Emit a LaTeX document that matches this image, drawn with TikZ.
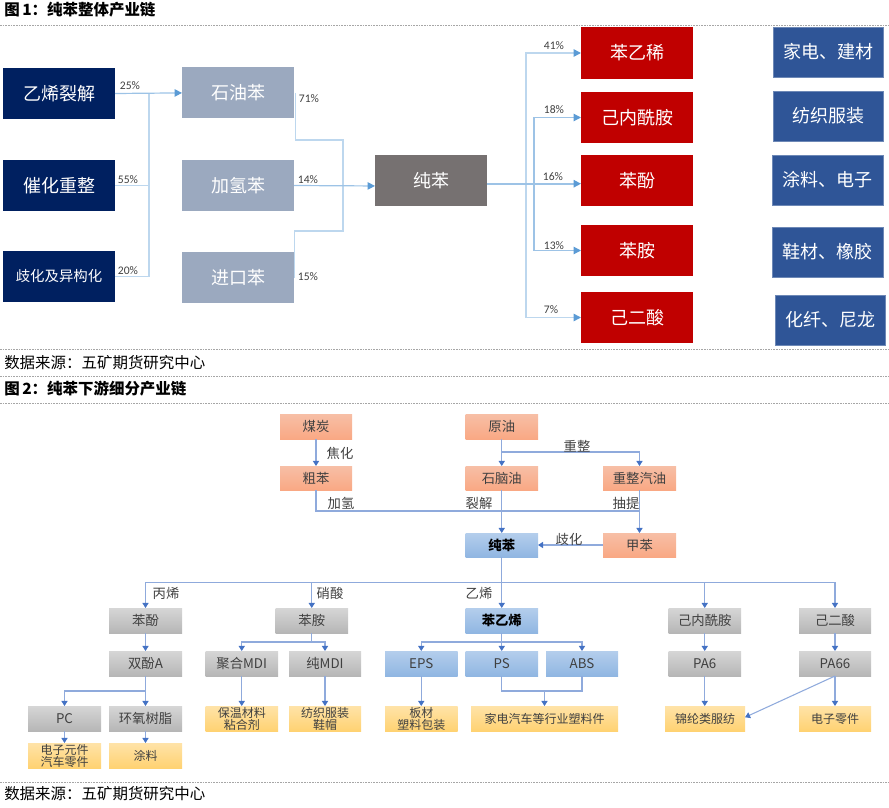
\documentclass[tikz,border=0pt]{standalone}
\usepackage{fontspec}
\setmainfont{Noto Sans CJK SC}
\newfontfamily\pctfont{Carlito}
\usetikzlibrary{arrows.meta,calc}
\definecolor{navy}{HTML}{002060}
\definecolor{steelg}{HTML}{9BA9BF}
\definecolor{darkg}{HTML}{767171}
\definecolor{deepred}{HTML}{C00000}
\definecolor{midblue}{HTML}{2F5597}
\definecolor{linelt}{HTML}{BDD7EE}
\definecolor{linemd}{HTML}{9DC3E6}
\definecolor{tiptop}{HTML}{5B9BD5}
\definecolor{linelow}{HTML}{8FAADC}
\definecolor{tiplow}{HTML}{4472C4}
\definecolor{txt}{HTML}{404040}
\definecolor{ortop}{HTML}{F7BFA6}
\definecolor{orbot}{HTML}{F9A884}
\definecolor{bltop}{HTML}{B4CEEC}
\definecolor{blbot}{HTML}{90B6E2}
\definecolor{grtop}{HTML}{D6D6D6}
\definecolor{grbot}{HTML}{B6B6B6}
\definecolor{yltop}{HTML}{FFE3A8}
\definecolor{ylbot}{HTML}{FFD272}
\newcommand\fs[1]{\fontsize{#1}{#1}\selectfont}
\newcommand\pb[7]{\node[#2, minimum width={(#5-#3)*0.75pt}, minimum height={(#6-#4)*0.75pt}] (#1) at ({(#3+#5)/2},{(#4+#6)/2}) {#7};}
\tikzset{
  boxbase/.style={inner sep=0pt,outer sep=0pt,align=center},
  bignavy/.style={boxbase,fill=navy,text=white,font=\fs{13.5}},
  bigsteel/.style={boxbase,fill=steelg,text=white,font=\fs{13.5}},
  bigdark/.style={boxbase,fill=darkg,text=white,font=\fs{13.5}},
  bigred/.style={boxbase,fill=deepred,text=white,font=\fs{13.5}},
  bigblue/.style={boxbase,fill=midblue,draw=midblue!70!white,line width=.5pt,text=white,font=\fs{13.5}},
  smallbox/.style={boxbase,text=txt,font=\fs{10}},
  orangebox/.style={smallbox,top color=ortop,bottom color=orbot},
  bluebox/.style={smallbox,top color=bltop,bottom color=blbot},
  graybox/.style={smallbox,top color=grtop,bottom color=grbot},
  yellowbox/.style={boxbase,text=txt,font=\fs{9},top color=yltop,bottom color=ylbot},
  pct/.style={inner sep=0pt,text=txt,font=\pctfont\fs{8.7}},
  lab/.style={inner sep=0pt,text=txt,font=\fs{10}},
  headl/.style={inner sep=0pt,anchor=west,text=black,font=\bfseries\fs{11.6}},
  srcl/.style={inner sep=0pt,anchor=west,text=black,font=\fs{11.6}},
  rule/.style={draw=black!35,line width=.4pt,dash pattern=on 1.2pt off .8pt},
  ltrunk/.style={draw=linelt,line width=1.2pt},
  ltop/.style={draw=linemd,line width=.9pt,-{Triangle[length=5.5pt,width=5.5pt,color=tiptop]}},
  llow/.style={draw=linelow,line width=.8pt},
  lowarr/.style={draw=linelow,line width=.8pt,-{Triangle[length=3.8pt,width=4.6pt,color=tiplow]}},
}
\begin{document}
\begin{tikzpicture}[x=0.75pt,y=-0.75pt]
\useasboundingbox (0,0) rectangle (889,807);
% rules and captions
\foreach \ry in {25.5,349.5,376.5,403.5,782.3} \draw[rule] (0,\ry) -- (889,\ry);
\node[headl] (h1) at (4,10) {图\,1：纯苯整体产业链};
\node[srcl] (s1t) at (4,362.5) {数据来源：五矿期货研究中心};
\node[headl] (h2) at (4,389) {图\,2：纯苯下游细分产业链};
\node[srcl] (s2t) at (4,794) {数据来源：五矿期货研究中心};
% top boxes
\pb{e1}{bignavy}{3}{68}{115}{119}{乙烯裂解}
\pb{e2}{bignavy}{3}{160}{115}{211}{催化重整}
\pb{e3}{bignavy,font=\fs{10.8}}{3}{251}{115}{302}{歧化及异构化}
\pb{s1}{bigsteel}{182}{67}{294}{118}{石油苯}
\pb{s2}{bigsteel}{182}{160}{294}{211}{加氢苯}
\pb{s3}{bigsteel}{182}{252}{294}{303}{进口苯}
\pb{c}{bigdark}{375}{155}{487}{206}{纯苯}
\pb{r1}{bigred}{581}{27}{693}{79}{苯乙稀}
\pb{r2}{bigred}{581}{92}{693}{143}{己内酰胺}
\pb{r3}{bigred}{581}{155}{693}{206}{苯酚}
\pb{r4}{bigred}{581}{225}{693}{276}{苯胺}
\pb{r5}{bigred}{581}{292}{693}{343}{己二酸}
\pb{b1}{bigblue}{773}{27}{883}{77}{家电、建材}
\pb{b2}{bigblue}{773}{91}{883}{141}{纺织服装}
\pb{b3}{bigblue}{772}{155}{883}{205}{涂料、电子}
\pb{b4}{bigblue}{772}{227}{883}{277}{鞋材、橡胶}
\pb{b5}{bigblue}{775}{295}{885}{345}{化纤、尼龙}
% top connectors
\coordinate (j1) at (149,93);
\coordinate (m) at (343,186);
\coordinate (m1) at (343,140);
\coordinate (m3) at (343,231);
\coordinate (t1) at (526,184);
\coordinate (t2) at (534,184);
\draw[ltrunk] (e2.east) -| (j1);
\draw[ltrunk] (e3.east) -| (j1);
\draw[ltop] (e1.east) -- ([yshift=-.3pt]s1.west);
\draw[ltrunk] ([xshift=1pt]s1.east) |- (m1) -- (m);
\draw[ltrunk] ([xshift=.5pt]s3.east) |- (m3) -- (m);
\draw[ltop] (s2.east) -- ([yshift=-4.1pt]c.west);
\draw[ltop,draw=linelt,line width=1.2pt] (t1) |- (r1.west);
\draw[ltop,draw=linelt,line width=1.2pt] (t1) |- (r5.west);
\draw[ltop] (t2) |- (r2.west);
\draw[ltop] (t2) |- (r4.west);
\draw[ltop,line width=1.2pt] ([yshift=-2.4pt]c.east) -- ([yshift=-2.4pt]r3.west);
% percentages
\foreach \n/\px/\py/\pt in {p1/130/86/25\%,p2/128/180/55\%,p3/128/271/20\%,p4/309/99/71\%,p5/308/180/14\%,p6/308/277/15\%,p7/554/46/41\%,p8/554/110/18\%,p9/553/177/16\%,p10/554/246/13\%,p11/551/310/7\%}
  \node[pct] (\n) at (\px,\py) {\pt};
% lower boxes
\pb{coal}{orangebox}{280}{414}{352}{439}{煤炭}
\pb{crude}{orangebox}{280}{466}{352}{490}{粗苯}
\pb{oil}{orangebox}{465.5}{414}{538}{439}{原油}
\pb{naph}{orangebox}{465.5}{466}{538}{490}{石脑油}
\pb{ref}{orangebox}{603}{466}{676}{490}{重整汽油}
\pb{tol}{orangebox}{603}{533}{676}{557}{甲苯}
\pb{pure}{bluebox,text=black,font=\bfseries\fs{10}}{465.5}{533}{538}{557}{纯苯}
\pb{phen}{graybox}{109}{608}{182}{633}{苯酚}
\pb{anil}{graybox}{275.5}{608}{348}{633}{苯胺}
\pb{styr}{bluebox,text=black,font=\bfseries\fs{10}}{465.5}{608}{538}{633}{苯乙烯}
\pb{capr}{graybox}{668.5}{608}{741}{633}{己内酰胺}
\pb{adip}{graybox}{799}{608}{871}{633}{己二酸}
\pb{bpa}{graybox}{109}{651}{182}{676}{双酚A}
\pb{pmdi}{graybox}{205.5}{651}{278}{676}{聚合MDI}
\pb{cmdi}{graybox}{289}{651}{361}{676}{纯MDI}
\pb{eps}{bluebox}{385}{651}{457.5}{676}{EPS}
\pb{ps}{bluebox}{465.5}{651}{538}{676}{PS}
\pb{abs}{bluebox}{546}{651}{618}{676}{ABS}
\pb{pa6}{graybox}{668.5}{651}{741}{676}{PA6}
\pb{pa66}{graybox}{799}{651}{871}{676}{PA66}
\pb{pc}{graybox}{28}{706}{101}{731}{PC}
\pb{epox}{graybox}{109}{706}{182}{731}{环氧树脂}
\pb{y1}{yellowbox}{205.5}{706}{278}{731}{保温材料\\粘合剂}
\pb{y2}{yellowbox}{289}{706}{361}{731}{纺织服装\\鞋帽}
\pb{y3}{yellowbox}{385}{706}{457.5}{731}{板材\\塑料包装}
\pb{y4}{yellowbox}{471}{706}{618}{731}{家电汽车等行业塑料件}
\pb{y5}{yellowbox}{665}{706}{745}{731}{锦纶类服纺}
\pb{y6}{yellowbox}{799}{706}{871}{731}{电子零件}
\pb{y7}{yellowbox}{28}{743}{101}{768}{电子元件\\汽车零件}
\pb{y8}{yellowbox}{109}{743}{182}{768}{涂料}
% lower connectors
\coordinate (jo) at (501.75,452);
\coordinate (jr) at (639.5,511);
\coordinate (bus) at (501.75,582.5);
\coordinate (ja) at (311.75,642);
\coordinate (js) at (501.75,642);
\coordinate (jb) at (145.5,691);
\coordinate (jp) at (544.5,691);
\draw[lowarr] (coal) -- (crude);
\draw[lowarr] (oil) -- (naph);
\draw[lowarr] (jo) -| (ref.north);
\draw[llow] (crude.south) |- (jr);
\draw[lowarr] (naph) -- (pure);
\draw[lowarr] (ref) -- (tol);
\draw[lowarr] (tol) -- (pure);
\draw[lowarr] (pure) -- (styr);
\draw[lowarr] (bus) -| (phen.north);
\draw[lowarr] (bus) -| (anil.north);
\draw[lowarr] (bus) -| (capr.north);
\draw[lowarr] (bus) -| (adip.north);
\draw[lowarr] (phen) -- (bpa);
\draw[lowarr] (bpa) -- (epox);
\draw[lowarr] (jb) -| (pc.north);
\draw[lowarr] (pc) -- (y7);
\draw[lowarr] (epox) -- (y8);
\draw[llow] (anil.south) -- (ja);
\draw[lowarr] (ja) -| (pmdi.north);
\draw[lowarr] (ja) -| (cmdi.north);
\draw[lowarr] (pmdi) -- (y1);
\draw[lowarr] (cmdi) -- (y2);
\draw[lowarr] (styr) -- (ps);
\draw[lowarr] (js) -| (eps.north);
\draw[lowarr] (js) -| (abs.north);
\draw[lowarr] (eps) -- (y3);
\draw[llow] (ps.south) |- (jp);
\draw[llow] (abs.south) |- (jp);
\draw[lowarr] (jp) -- (y4.north);
\draw[lowarr] (capr) -- (pa6);
\draw[lowarr] (pa6.south) -- (y5.north -| pa6.south);
\draw[lowarr] (adip) -- (pa66);
\draw[lowarr] (pa66) -- (y6);
\draw[lowarr] (pa66.south) -- ([yshift=.9pt]y5.east);
% lower labels
\foreach \n/\px/\py/\pt in {l1/340/453/焦化,l2/577/446/重整,l3/341/503/加氢,l4/479/503/裂解,l5/626/503/抽提,l6/569/539/歧化,l7/166/593/丙烯,l8/330/593/硝酸,l9/479/593/乙烯}
  \node[lab] (\n) at (\px,\py) {\pt};
\end{tikzpicture}
\end{document}
